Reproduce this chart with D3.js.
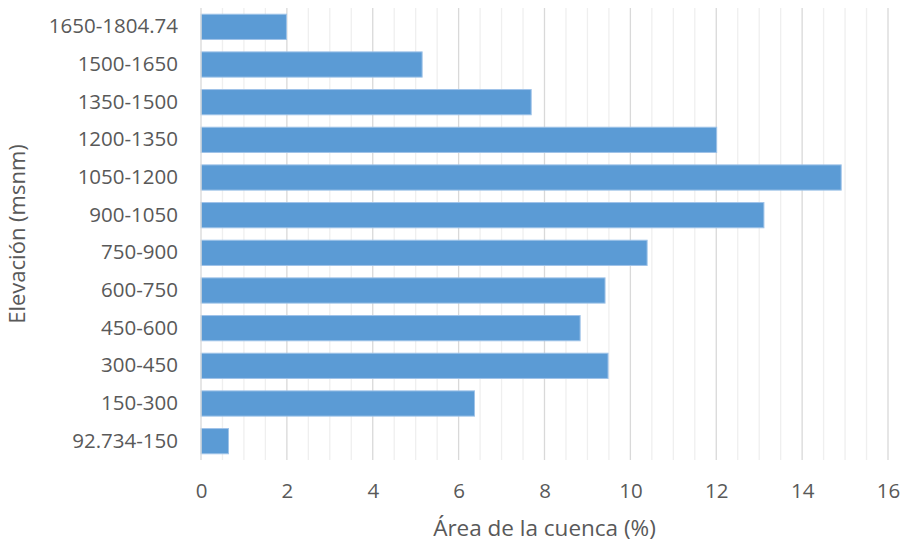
<!DOCTYPE html>
<html>
<head>
<meta charset="utf-8">
<script src="https://cdn.jsdelivr.net/npm/d3@7"></script>
<style>
    body { margin: 0; background: #fff; }
    #vis { width: 904px; height: 546px; }
    text { font-family: "Open Sans", "Noto Sans", sans-serif; fill: #595959; }
</style>
</head>
<body>
<div id="vis"></div>
<script>
// elevation ranges, top to bottom as in the chart
const categories = [
    "1650-1804.74", "1500-1650", "1350-1500", "1200-1350", "1050-1200", "900-1050",
    "750-900", "600-750", "450-600", "300-450", "150-300", "92.734-150"
];
// area of the basin (%) per range
const areaPct = [1.99, 5.15, 7.69, 12.01, 14.91, 13.11, 10.39, 9.41, 8.83, 9.48, 6.37, 0.64];
const xTicks = [0, 2, 4, 6, 8, 10, 12, 14, 16];
const xTitle = "Área de la cuenca (%)";
const yTitle = "Elevación (msnm)";

const margin = { top: 8, right: 16, bottom: 86, left: 201 };
const vis = document.getElementById("vis");
const width = 904 - margin.left - margin.right;
const height = 546 - margin.top - margin.bottom;

const data = categories.map((c, i) => ({ cat: c, value: areaPct[i] }));

const xScale = d3.scaleLinear().domain([0, 16]).range([0, width]);
const yScale = d3.scaleBand().domain(categories).range([0, height])
    .paddingInner(0.33).paddingOuter(0.165);

const svg = d3.select(vis).append("svg")
    .attr("width", 904)
    .attr("height", 546)
    .append("g")
    .attr("transform", `translate(${[margin.left, margin.top]})`);

// minor gridlines every 0.5
svg.append("g").selectAll("line")
    .data(d3.range(0.5, 16, 0.5).filter(v => v % 2 !== 0))
    .enter().append("line")
    .attr("x1", d => xScale(d)).attr("x2", d => xScale(d))
    .attr("y1", 0).attr("y2", height)
    .style("stroke", "#efefef").style("stroke-width", 1.3);

// major gridlines
svg.append("g").selectAll("line")
    .data(xTicks.slice(1))
    .enter().append("line")
    .attr("x1", d => xScale(d)).attr("x2", d => xScale(d))
    .attr("y1", 0).attr("y2", height)
    .style("stroke", "#d9d9d9").style("stroke-width", 1.3);

// bars
svg.append("g").selectAll("rect")
    .data(data)
    .enter().append("rect")
    .attr("x", 0)
    .attr("y", d => yScale(d.cat))
    .attr("width", d => xScale(d.value))
    .attr("height", yScale.bandwidth())
    .style("fill", "#5b9bd5")
    .style("stroke", "#9fc3e8")
    .style("stroke-width", 1);

// value axis line at 0
svg.append("line")
    .attr("x1", xScale(0)).attr("x2", xScale(0))
    .attr("y1", 0).attr("y2", height)
    .style("stroke", "#d9d9d9").style("stroke-width", 1.3);

// x axis labels
const xAxis = svg.append("g")
    .attr("transform", `translate(${[0, height]})`)
    .call(d3.axisBottom(xScale).tickValues(xTicks).tickSize(0).tickPadding(23));
xAxis.select(".domain").remove();
xAxis.selectAll("text").style("font-size", "20.5px").attr("fill", "#595959");

// y axis labels
const yAxis = svg.append("g")
    .call(d3.axisLeft(yScale).tickSize(0).tickPadding(23));
yAxis.select(".domain").remove();
yAxis.selectAll("text").style("font-size", "20.5px").attr("fill", "#595959");

// axis titles
svg.append("text")
    .attr("x", width / 2)
    .attr("y", height + 76)
    .attr("text-anchor", "middle")
    .style("font-size", "22.5px")
    .text(xTitle);

svg.append("text")
    .attr("transform", `translate(${[-margin.left + 25, height / 2]}) rotate(-90)`)
    .attr("text-anchor", "middle")
    .style("font-size", "22px")
    .text(yTitle);
</script>
</body>
</html>
